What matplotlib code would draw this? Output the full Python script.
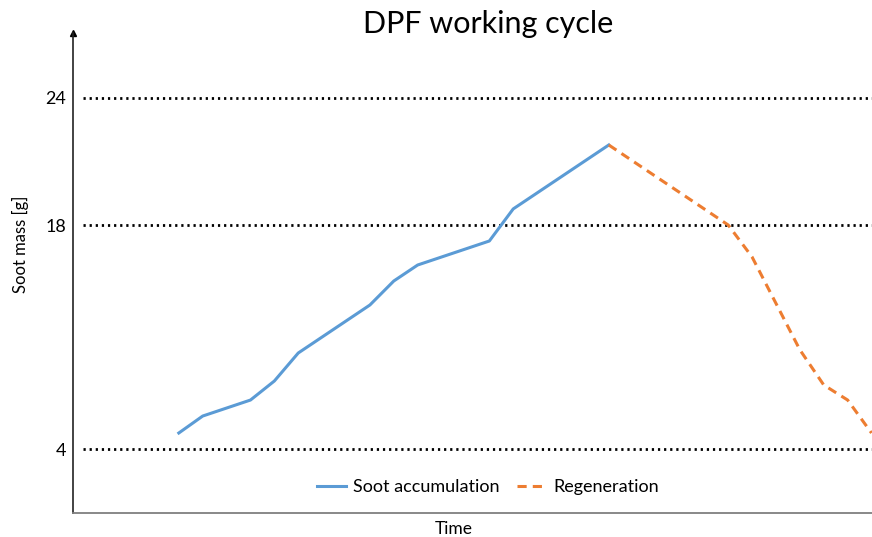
import matplotlib
matplotlib.use("Agg")
import matplotlib.pyplot as plt
import numpy as np

# Data (x = time step index, y = soot mass in g)
soot_x = [0, 1, 3, 4, 5, 8, 9, 10, 13, 14, 18]
soot_y = [5.0, 6.06, 7.06, 8.25, 10.0, 13.0, 14.5, 15.5, 17.0, 18.76, 21.78]
regen_x = [18, 23, 24, 26, 27, 28, 29]
regen_y = [21.78, 18.0, 16.0, 10.2, 8.0, 7.06, 5.0]
y_ticks = [4, 18, 24]
title = "DPF working cycle"

# piecewise-linear y scale matching the drawn spacing of the gridlines
K = 1.323
def fwd(y):
    y = np.asarray(y, dtype=float)
    return np.where(y <= 18, y, 18 + (y - 18) * K)
def inv(t):
    t = np.asarray(t, dtype=float)
    return np.where(t <= 18, t, 18 + (t - 18) / K)

plt.rcParams['font.family'] = ['Lato', 'DejaVu Sans']

fig = plt.figure(figsize=(8.72, 5.37), dpi=100)
ax = fig.add_axes([73/872, 24/537, 1 - 73/872, (513 - 33)/537])
ax.set_yscale('function', functions=(fwd, inv))

ax.set_xlim(-4.43, 29.02)
ax.set_ylim(0, float(inv(30)))

ax.hlines(y_ticks, -4.0, 29.02, colors='black', linestyles=(0, (0.8, 1.4)), linewidth=2.0, zorder=1)

ax.plot(soot_x, soot_y, color='#5B9BD5', linewidth=2.2, label='Soot accumulation', zorder=3)
ax.plot(regen_x, regen_y, color='#ED7D31', linewidth=2.2, dashes=(3, 2), label='Regeneration', zorder=3)

ax.set_yticks(y_ticks)
ax.set_yticklabels([str(v) for v in y_ticks])
ax.yaxis.set_minor_locator(matplotlib.ticker.NullLocator())
ax.tick_params(axis='y', length=0, labelsize=13, pad=5)
ax.set_xticks([])

for s in ['top', 'right']:
    ax.spines[s].set_visible(False)
ax.spines['left'].set_color('#222222')
ax.spines['left'].set_linewidth(1.2)
ax.spines['bottom'].set_color('#7f7f7f')
ax.spines['bottom'].set_linewidth(1.3)

# arrow on top of y axis
ax.plot([0], [1], marker='^', color='black', markersize=5, transform=ax.transAxes, clip_on=False)

ax.set_ylabel('Soot mass [g]', fontsize=12)
ax.yaxis.set_label_coords((29 - 73) / 799, (513 - 244) / 480)
ax.set_xlabel('Time', fontsize=12.5)
ax.xaxis.set_label_coords((454 - 73) / (872 - 73), -0.016)

fig.text(488/872, 1 - 24/537, title, ha='center', va='center', fontsize=22)

ax.legend(loc='center', bbox_to_anchor=((488 - 73) / 799, (513 - 487) / 480), ncol=2, frameon=False,
          fontsize=13, handlelength=1.6, columnspacing=1.0, handletextpad=0.4)

fig.savefig('out.png', dpi=100)
